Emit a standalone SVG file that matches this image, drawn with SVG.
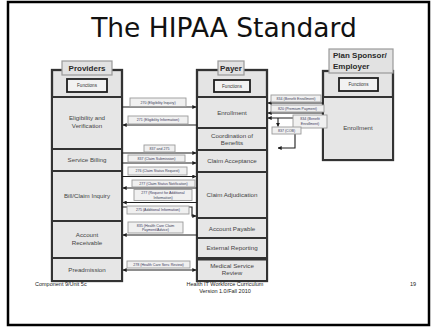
<svg xmlns="http://www.w3.org/2000/svg" width="435" height="327" viewBox="0 0 435 327">
<style>
.col{fill:#e4e4e4;stroke:#333;stroke-width:2.3}
.row{fill:#e6e6e6;stroke:#333;stroke-width:2}
.tab{fill:#e2e2e2;stroke:#9a9a9a;stroke-width:1.2}
.tabt{font-family:"Liberation Sans",Arial,sans-serif;font-weight:bold;font-size:8px;fill:#2a2a2a}
.fn{fill:#f2f2f2;stroke:#1e1e1e;stroke-width:1.8}
.fnt{font-family:"Liberation Sans",Arial,sans-serif;font-size:4.6px;fill:#333;text-anchor:middle}
.rt{font-family:"Liberation Sans",Arial,sans-serif;font-size:6.2px;fill:#444;text-anchor:middle}
.lb{fill:#f0f0f0;stroke:#9a9a9a;stroke-width:0.9}
.lt{font-family:"Liberation Sans",Arial,sans-serif;font-size:3.6px;fill:#3a3a5a;text-anchor:middle}
.cn{fill:none;stroke:#1e1e1e;stroke-width:1.1}
.ft{font-family:"Liberation Sans",Arial,sans-serif;font-size:5.5px;fill:#222}
</style>
<defs>
<marker id="ah" viewBox="0 0 6 6" refX="5.5" refY="3" markerWidth="4" markerHeight="4" orient="auto-start-reverse" markerUnits="userSpaceOnUse">
<path d="M0,0 L6,3 L0,6 z" fill="#1e1e1e"/>
</marker>
</defs>
<rect x="8" y="2" width="421" height="323" fill="#fff" stroke="#000" stroke-width="2.5"/>
<text x="224" y="37" font-family="DejaVu Sans,Verdana,sans-serif" font-size="26.5" text-anchor="middle" fill="#111">The HIPAA Standard</text>

<g id="providers">
<rect class="col" x="52" y="70" width="70" height="211"/>
<rect class="tab" x="62" y="61" width="50" height="14"/>
<text class="tabt" x="87" y="71" text-anchor="middle">Providers</text>
<rect class="fn" x="67" y="79" width="40" height="13"/>
<text class="fnt" x="87" y="87.2">Functions</text>
<rect class="row" x="52" y="97" width="70" height="52"/>
<text class="rt" x="87" y="120">Eligibility and</text>
<text class="rt" x="87" y="128">Verification</text>
<rect class="row" x="52" y="149" width="70" height="22"/>
<text class="rt" x="87" y="162">Service Billing</text>
<rect class="row" x="52" y="171" width="70" height="50"/>
<text class="rt" x="87" y="197.5">Bill/Claim Inquiry</text>
<rect class="row" x="52" y="221" width="70" height="37"/>
<text class="rt" x="87" y="237">Account</text>
<text class="rt" x="87" y="245">Receivable</text>
<rect class="row" x="52" y="258" width="70" height="23"/>
<text class="rt" x="87" y="271.5">Preadmission</text>
</g>

<g id="payer">
<rect class="col" x="197" y="70" width="70" height="211"/>
<rect class="tab" x="218" y="61" width="26" height="14"/>
<text class="tabt" x="231" y="71" text-anchor="middle">Payer</text>
<rect class="fn" x="214" y="80" width="36" height="12"/>
<text class="fnt" x="232" y="87.7">Functions</text>
<rect class="row" x="197" y="97" width="70" height="31"/>
<text class="rt" x="232" y="115">Enrollment</text>
<rect class="row" x="197" y="128" width="70" height="22"/>
<text class="rt" x="232" y="138">Coordination of</text>
<text class="rt" x="232" y="145">Benefits</text>
<rect class="row" x="197" y="150" width="70" height="22"/>
<text class="rt" x="232" y="163">Claim Acceptance</text>
<rect class="row" x="197" y="172" width="70" height="46"/>
<text class="rt" x="232" y="197">Claim Adjudication</text>
<rect class="row" x="197" y="218" width="70" height="20"/>
<text class="rt" x="232" y="230.5">Account Payable</text>
<rect class="row" x="197" y="238" width="70" height="20"/>
<text class="rt" x="232" y="250">External Reporting</text>
<rect class="row" x="197" y="259.5" width="70" height="21.5"/>
<text class="rt" x="232" y="268">Medical Service</text>
<text class="rt" x="232" y="275">Review</text>
</g>

<g id="sponsor">
<rect class="col" x="323" y="71" width="70" height="89"/>
<rect class="tab" x="329" y="49" width="64" height="24"/>
<text class="tabt" x="333" y="58">Plan Sponsor/</text>
<text class="tabt" x="333" y="69">Employer</text>
<rect class="fn" x="339" y="78" width="39" height="13"/>
<text class="fnt" x="358.5" y="86.2">Functions</text>
<rect class="row" x="323" y="97" width="70" height="63"/>
<text class="rt" x="358" y="130" fill="#5a3a3a">Enrollment</text>
</g>

<g id="connectors">
<line class="cn" x1="122" y1="107" x2="196" y2="107" marker-end="url(#ah)"/>
<rect class="lb" x="130" y="98" width="56" height="8.5"/>
<text class="lt" x="158" y="103.5">270 (Eligibility Inquiry)</text>

<line class="cn" x1="197" y1="125" x2="123" y2="125" marker-end="url(#ah)"/>
<rect class="lb" x="128" y="116" width="60" height="8"/>
<text class="lt" x="158" y="121.3">271 (Eligibility Information)</text>

<line class="cn" x1="122" y1="153" x2="196" y2="153" marker-end="url(#ah)"/>
<rect class="lb" x="144" y="145" width="31" height="7"/>
<text class="lt" x="159.5" y="149.8">837 and 275</text>

<line class="cn" x1="122" y1="163" x2="196" y2="163" marker-end="url(#ah)"/>
<rect class="lb" x="128" y="155" width="57" height="7"/>
<text class="lt" x="156.5" y="159.8">837 (Claim Submission)</text>

<line class="cn" x1="122" y1="176.5" x2="196" y2="176.5" marker-end="url(#ah)"/>
<rect class="lb" x="128" y="167" width="59" height="8"/>
<text class="lt" x="157.5" y="172.3">276 (Claim Status Request)</text>

<line class="cn" x1="197" y1="188" x2="123" y2="188" marker-end="url(#ah)"/>
<rect class="lb" x="132" y="180" width="63" height="7"/>
<text class="lt" x="163.5" y="184.8">277 (Claim Status Notification)</text>

<line class="cn" x1="197" y1="202.5" x2="123" y2="202.5" marker-end="url(#ah)"/>
<rect class="lb" x="134" y="189.5" width="58" height="11"/>
<text class="lt" x="163" y="194">277 (Request for Additional</text>
<text class="lt" x="163" y="198.5">Information)</text>

<path class="cn" d="M122,207 H192 V216 H196" marker-end="url(#ah)"/>
<rect class="lb" x="127" y="206" width="62" height="8"/>
<text class="lt" x="158" y="211.3">275 (Additional Information)</text>

<line class="cn" x1="197" y1="235" x2="123" y2="235" marker-end="url(#ah)"/>
<rect class="lb" x="128" y="222" width="55" height="11"/>
<text class="lt" x="155.5" y="226.5">835 (Health Care Claim</text>
<text class="lt" x="155.5" y="231">Payment/Advice)</text>

<line class="cn" x1="123" y1="270" x2="196" y2="270" marker-start="url(#ah)" marker-end="url(#ah)"/>
<rect class="lb" x="127" y="261" width="63" height="7"/>
<text class="lt" x="158.5" y="265.8">278 (Health Care Serv. Review)</text>

<line class="cn" x1="323" y1="103" x2="268" y2="103" marker-end="url(#ah)"/>
<rect class="lb" x="271" y="95" width="50" height="7"/>
<text class="lt" x="296" y="99.8">834 (Benefit Enrollment)</text>

<line class="cn" x1="323" y1="113" x2="268" y2="113" marker-end="url(#ah)"/>
<rect class="lb" x="271" y="105" width="53" height="7"/>
<text class="lt" x="297.5" y="109.8">820 (Premium Payment)</text>

<line class="cn" x1="323" y1="118" x2="268" y2="118" marker-end="url(#ah)"/>
<line class="cn" x1="278" y1="118" x2="278" y2="126.5" marker-end="url(#ah)"/>
<rect class="lb" x="293" y="115" width="34" height="13"/>
<text class="lt" x="310" y="120">834 (Benefit</text>
<text class="lt" x="310" y="125">Enrollment)</text>

<path class="cn" d="M295,134 V148 H278" marker-end="url(#ah)"/>
<rect class="lb" x="272" y="127" width="29" height="7"/>
<text class="lt" x="286.5" y="131.8">837 (COB)</text>
</g>

<g id="footer">
<text class="ft" x="35" y="286">Component 9/Unit 5c</text>
<text class="ft" x="225" y="286" text-anchor="middle">Health IT Workforce Curriculum</text>
<text class="ft" x="225" y="292.5" text-anchor="middle">Version 1.0/Fall 2010</text>
<text class="ft" x="410" y="286">19</text>
</g>
</svg>
